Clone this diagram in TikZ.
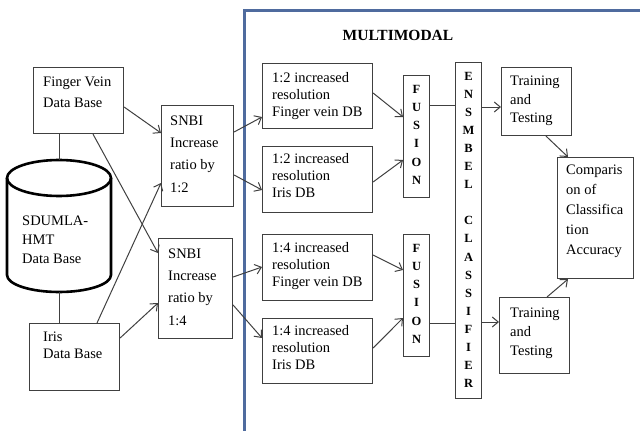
\documentclass[tikz,border=0pt]{standalone}
\usepackage{fontspec}
\setmainfont{Liberation Serif}
\usetikzlibrary{arrows.meta}

\begin{document}
\begin{tikzpicture}[x=1pt,y=-1pt,
    box/.style={draw=black!75, line width=1.1pt, anchor=north west, inner sep=0pt},
    lbl/.style={anchor=north west, inner sep=0pt, align=left, font=\fontsize{14.5}{#1}\selectfont},
    letter/.style={anchor=base, inner sep=0pt, font=\fontsize{12.5}{14}\selectfont\bfseries},
    con/.style={draw=black!75, line width=1pt},
    arr/.style={con, -{Straight Barb[length=6pt,width=10pt]}}]
    \useasboundingbox (0,0) rectangle (640,431);

    % Moldura multimodal
    \draw[line width=3pt, color={rgb,255:red,79;green,107;blue,158}]
    (244,431) -- (244,10) -- (640,10);
    \node[anchor=base, inner sep=0pt, font=\fontsize{15.5}{17}\selectfont\bfseries] (mm) at (398,40) {MULTIMODAL};

    % Base de dados (cilindro)
    \draw[line width=2.6pt] (59,178) ellipse [x radius=52, y radius=18];
    \draw[line width=2.6pt] (7,178) -- (7,275) arc[start angle=180, end angle=0, x radius=52, y radius=17] -- (111,178);
    \coordinate (dbtop) at (59,160);
    \coordinate (dbbot) at (59,292);
    \node[lbl=19] (dbt) at (22,215.4) {SDUMLA-\\HMT\\Data Base};

    % Caixas
    \node[box, minimum width=90, minimum height=66] (fv) at (33,67) {};
    \node[box, minimum width=90, minimum height=67] (iris) at (29,323) {};
    \node[box, minimum width=72, minimum height=101] (snbia) at (161,105) {};
    \node[box, minimum width=74, minimum height=100] (snbib) at (158,238) {};
    \node[box, minimum width=110, minimum height=65] (ra) at (262,63) {};
    \node[box, minimum width=110, minimum height=66] (rb) at (262,146) {};
    \node[box, minimum width=110, minimum height=66] (rc) at (262,234) {};
    \node[box, minimum width=110, minimum height=65] (rd) at (262,318) {};
    \node[box, minimum width=26, minimum height=122] (fusa) at (403,75) {};
    \node[box, minimum width=26, minimum height=122] (fusb) at (403,234) {};
    \node[box, minimum width=26, minimum height=336] (ens) at (455,62) {};
    \node[box, minimum width=70, minimum height=68] (traina) at (501,67) {};
    \node[box, minimum width=70, minimum height=76] (trainb) at (499,297) {};
    \node[box, minimum width=76, minimum height=121] (comp) at (557,157) {};

    % Textos das caixas
    \node[lbl=21] (fvt) at ([xshift=10pt,yshift=-9.4pt]fv.north west) {Finger Vein\\Data Base};
    \node[lbl=17] (irist) at ([xshift=14pt,yshift=-8.4pt]iris.north west) {Iris\\Data Base};
    \node[lbl=22.3] (snbiat) at ([xshift=9pt,yshift=-10.4pt]snbia.north west) {SNBI\\Increase\\ratio by\\1:2};
    \node[lbl=22.3] (snbibt) at ([xshift=10pt,yshift=-10.4pt]snbib.north west) {SNBI\\Increase\\ratio by\\1:4};
    \node[lbl=17] (rat) at ([xshift=10pt,yshift=-9.4pt]ra.north west) {1:2 increased\\resolution\\Finger vein DB};
    \node[lbl=17] (rbt) at ([xshift=10pt,yshift=-7.4pt]rb.north west) {1:2 increased\\resolution\\Iris DB};
    \node[lbl=17] (rct) at ([xshift=10pt,yshift=-8.4pt]rc.north west) {1:4 increased\\resolution\\Finger vein DB};
    \node[lbl=17] (rdt) at ([xshift=10pt,yshift=-7.4pt]rd.north west) {1:4 increased\\resolution\\Iris DB};
    \node[lbl=18.8] (trainat) at ([xshift=9pt,yshift=-8.4pt]traina.north west) {Training\\and\\Testing};
    \node[lbl=19] (trainbt) at ([xshift=11pt,yshift=-10.4pt]trainb.north west) {Training\\and\\Testing};
    \node[lbl=20] (compt) at ([xshift=9pt,yshift=-7.4pt]comp.north west) {Comparis\\on of\\Classifica\\tion\\Accuracy};

    % Letras verticais
    \foreach \ch [count=\i, evaluate=\i as \dy using 18+18.3*(\i-1)] in {F,U,S,I,O,N} {
        \node[letter] (fa\i) at ([yshift=-\dy pt]fusa.north) {\ch};
        \node[letter] (fb\i) at ([yshift=-\dy pt]fusb.north) {\ch};
    }
    \foreach \ch [count=\i, evaluate=\i as \dy using 18+18.1*(\i-1)] in {E,N,S,M,B,E,L}
        \node[letter] (ea\i) at ([yshift=-\dy pt]ens.north) {\ch};
    \foreach \ch [count=\i, evaluate=\i as \dy using 18+18.1*(\i+7)] in {C,L,A,S,S,I,F,I,E,R}
        \node[letter] (eb\i) at ([yshift=-\dy pt]ens.north) {\ch};

    % Ligacoes
    \draw[con] (fv.south -| dbtop) -- (dbtop);
    \draw[con] (dbbot) -- (dbbot |- iris.north);
    \draw[arr] ([yshift=-40pt]fv.north east) -- ([yshift=-28pt]snbia.north west);
    \draw[arr] ([xshift=60pt]fv.south west) -- ([yshift=-15pt]snbib.north west);
    \draw[arr] ([xshift=68pt]iris.north west) -- ([yshift=-78pt]snbia.north west);
    \draw[arr] ([yshift=-15pt]iris.north east) -- ([yshift=-65pt]snbib.north west);

    \draw[arr] ([yshift=-27pt]snbia.north east) -- ([yshift=-54pt]ra.north west);
    \draw[arr] ([yshift=-70pt]snbia.north east) -- ([yshift=-44pt]rb.north west);
    \draw[arr] ([yshift=-39pt]snbib.north east) -- ([yshift=-33pt]rc.north west);
    \draw[arr] ([yshift=-67pt]snbib.north east) -- ([yshift=-20pt]rd.north west);

    \draw[arr] ([yshift=-30pt]ra.north east) -- ([yshift=-42pt]fusa.north west);
    \draw[arr] ([yshift=-36pt]rb.north east) -- ([yshift=-85pt]fusa.north west);
    \draw[arr] ([yshift=-21pt]rc.north east) -- ([yshift=-36pt]fusb.north west);
    \draw[arr] ([yshift=-30pt]rd.north east) -- ([yshift=-84pt]fusb.north west);

    \coordinate (fao) at ([yshift=-30pt]fusa.north east);
    \coordinate (fbo) at ([yshift=-89pt]fusb.north east);
    \draw[con] (fao) -- (fao -| ens.west);
    \draw[con] (fbo) -- (fbo -| ens.west);

    \coordinate (eao) at ([yshift=-45pt]ens.north east);
    \coordinate (ebo) at ([yshift=-260pt]ens.north east);
    \draw[arr] (eao) -- (eao -| traina.west);
    \draw[arr] (ebo) -- (ebo -| trainb.west);

    \draw[arr] ([xshift=45pt]traina.south west) -- ([xshift=11pt]comp.north west);
    \draw[arr] ([xshift=48pt]trainb.north west) -- ([xshift=11pt]comp.south west);
\end{tikzpicture}
\end{document}
